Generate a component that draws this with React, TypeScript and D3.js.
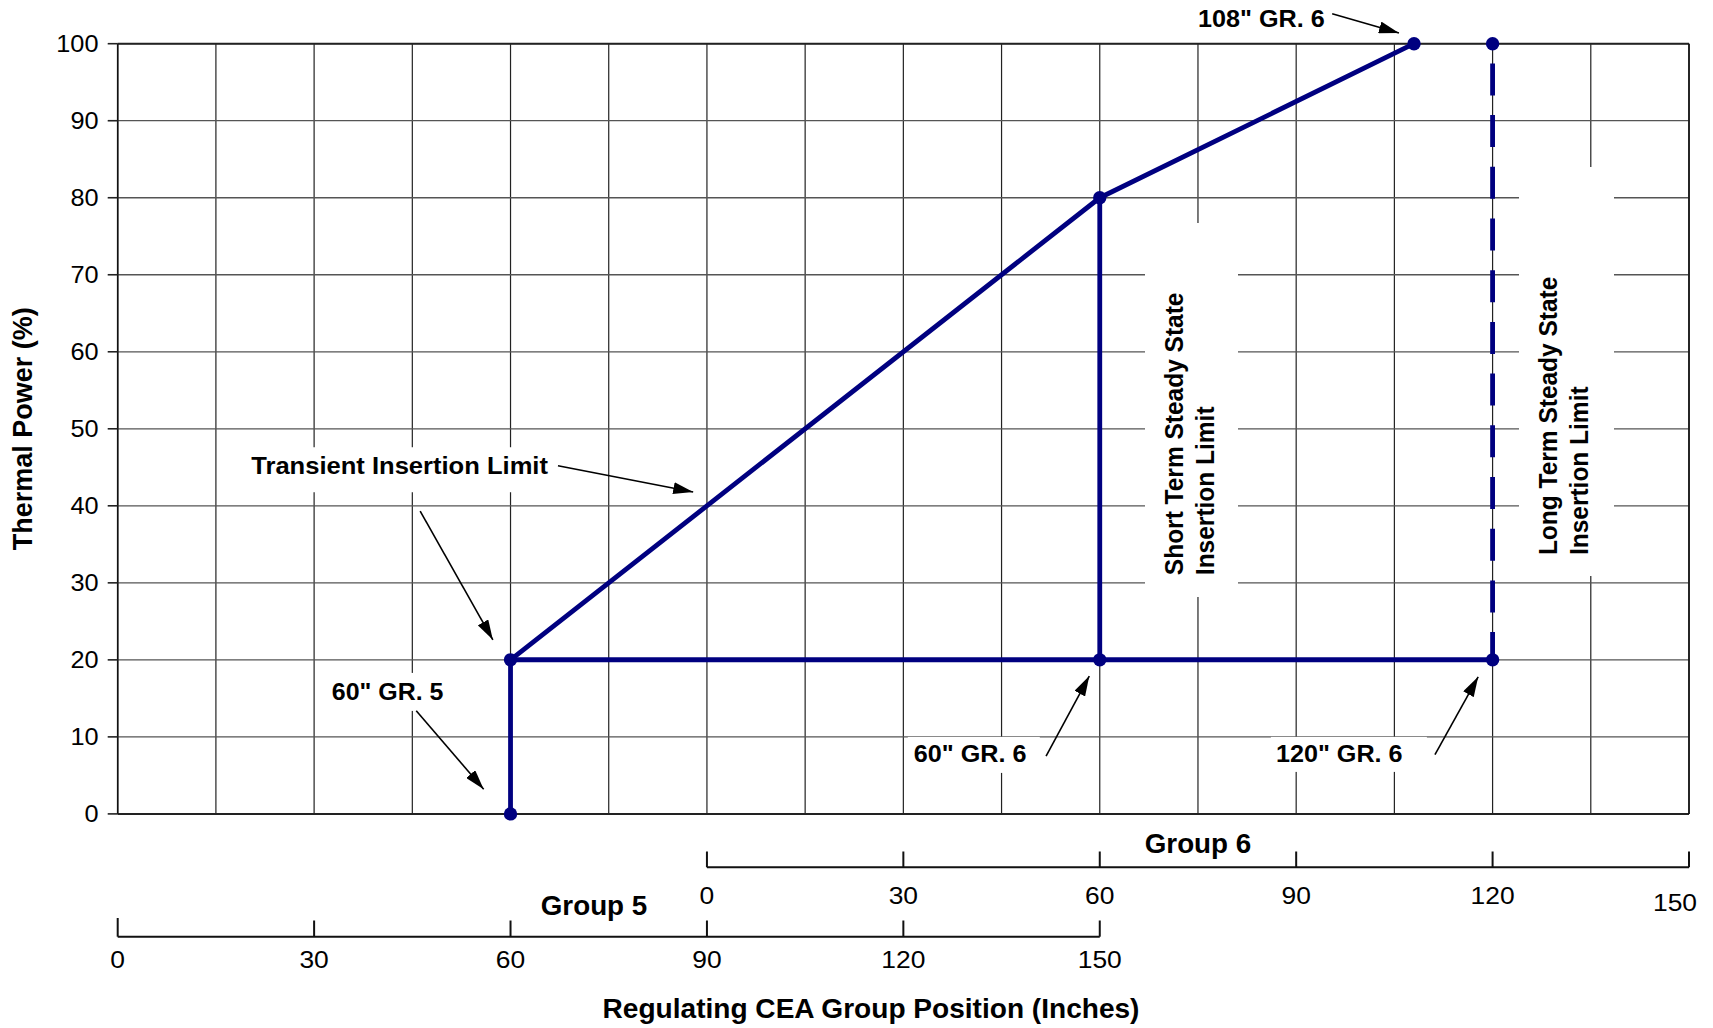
import React from "react";
import * as d3 from "d3";

// ---- data (combined position axis: Group 5 inches 0..150, Group 6 = Group5 - 90) ----
const yTicks = [0, 10, 20, 30, 40, 50, 60, 70, 80, 90, 100];
const groupTicks = [0, 30, 60, 90, 120, 150];
const group6Offset = 90; // Group 6 position 0 == Group 5 position 90

const transientPos = [60, 60, 150, 198];
const transientPower = [0, 20, 80, 100];

const floorPos = [60, 210];
const floorPower = [20, 20];

const shortTermPos = [150, 150];
const shortTermPower = [20, 80];

const longTermPos = [210, 210];
const longTermPower = [100, 20];

const dotPos = [60, 60, 150, 198, 150, 210, 210];
const dotPower = [0, 20, 80, 100, 20, 20, 100];

const W = 1713;
const H = 1028;
const X0 = 117.7, X1 = 1689, Y0 = 813.9, Y1 = 43.7;
const NAVY = "#000080";
const FONT = "'Liberation Sans', Arial, Helvetica, sans-serif";

const x = d3.scaleLinear().domain([0, 240]).range([X0, X1]);
const y = d3.scaleLinear().domain([0, 100]).range([Y0, Y1]);
const x5 = d3.scaleLinear().domain([0, 150]).range([x(0), x(150)]);
const x6 = d3.scaleLinear().domain([0, 150]).range([x(group6Offset), x(group6Offset + 150)]);

const line = d3.line<[number, number]>().x((d) => x(d[0])).y((d) => y(d[1]));
const zip = (a: number[], b: number[]) => a.map((v, i) => [v, b[i]] as [number, number]);

// annotations: label anchor and arrow in data units
const labels = [
  { text: "Transient Insertion Limit", u: 20.4, v: 44.1, box: [-6, -27, 306, 18], sx: 1.065 },
  { text: '60" GR. 5', u: 32.7, v: 14.8, box: [-6, -27, 121, 11], sx: 1.04 },
  { text: '60" GR. 6', u: 121.6, v: 6.75, box: [-6, -25, 126, 11], sx: 1.05 },
  { text: '120" GR. 6', u: 176.9, v: 6.75, box: [-5, -25, 151, 10], sx: 1.05 },
  { text: '108" GR. 6', u: 165.0, v: 102.2, box: null, sx: 1.05 },
];
const arrows = [
  [67.25, 45.2, 87.9, 41.8],
  [46.2, 39.3, 57.3, 22.6],
  [45.6, 13.4, 55.9, 3.2],
  [141.8, 7.5, 148.4, 17.9],
  [201.2, 7.7, 207.8, 17.8],
  [185.5, 103.9, 195.7, 101.4],
];
const vLabels = [
  { lines: ["Short Term Steady State", "Insertion Limit"], u: 162.7, v: 31.0, box: [1145, 223, 1238, 597] },
  { lines: ["Long Term Steady State", "Insertion Limit"], u: 219.8, v: 33.6, box: [1519, 167, 1614, 576] },
];

function T(props: any) {
  const { x: tx, y: ty, sx = 1, anchor = "start", size = 24, bold = false, children } = props;
  return (
    <text
      transform={`translate(${tx},${ty}) scale(${sx},1)`}
      textAnchor={anchor}
      fontSize={size}
      fontWeight={bold ? "bold" : "normal"}
      fontFamily={FONT}
      fill="#000"
    >
      {children}
    </text>
  );
}

export default function App() {
  return (
    <svg
      width={W}
      height={H}
      viewBox={`0 0 ${W} ${H}`}
      style={{ position: "absolute", left: 0, top: 0, display: "block", background: "#fff" }}
    >
      <defs>
        <marker id="ah" markerUnits="userSpaceOnUse" markerWidth={20} markerHeight={12} refX={20} refY={6} orient="auto">
          <path d="M0,0 L20,6 L0,12 z" fill="#000" />
        </marker>
      </defs>
      <rect x={0} y={0} width={W} height={H} fill="#fff" />

      {/* grid */}
      {d3.range(0, 241, 15).map((u) => (
        <line key={"v" + u} x1={x(u)} x2={x(u)} y1={Y1} y2={Y0} stroke="#222" strokeWidth={1.2} />
      ))}
      {yTicks.map((t) => (
        <line key={"h" + t} x1={X0} x2={X1} y1={y(t)} y2={y(t)} stroke="#555" strokeWidth={1.3} />
      ))}
      <line x1={X0} x2={X1} y1={Y1} y2={Y1} stroke="#222" strokeWidth={2} />
      <line x1={X0} x2={X1} y1={Y0} y2={Y0} stroke="#222" strokeWidth={2} />
      <line x1={X0} x2={X0} y1={Y1} y2={Y0} stroke="#111" strokeWidth={1.6} />
      <line x1={X1} x2={X1} y1={Y1} y2={Y0} stroke="#111" strokeWidth={1.6} />

      {/* y ticks */}
      {yTicks.map((t) => (
        <g key={"yt" + t}>
          <line x1={X0 - 10} x2={X0} y1={y(t)} y2={y(t)} stroke="#222" strokeWidth={1.6} />
          <T x={98.5} y={y(t) + 8.2} anchor="end" size={23} sx={1.1}>{t}</T>
        </g>
      ))}

      {/* white label boxes */}
      {labels.filter((l) => l.box).map((l, i) => {
        const ax = x(l.u), ay = y(l.v);
        const b = l.box as number[];
        return <rect key={"lb" + i} x={ax + b[0]} y={ay + b[1]} width={b[2] - b[0]} height={b[3] - b[1]} fill="#fff" />;
      })}
      {vLabels.map((l, i) => (
        <rect key={"vb" + i} x={l.box[0]} y={l.box[1]} width={l.box[2] - l.box[0]} height={l.box[3] - l.box[1]} fill="#fff" />
      ))}

      {/* series */}
      <path d={line(zip(floorPos, floorPower)) || ""} fill="none" stroke={NAVY} strokeWidth={5} />
      <path d={line(zip(shortTermPos, shortTermPower)) || ""} fill="none" stroke={NAVY} strokeWidth={4.8} />
      <path d={line(zip(transientPos, transientPower)) || ""} fill="none" stroke={NAVY} strokeWidth={4.8} strokeLinejoin="round" />
      <path
        d={line(zip(longTermPos, longTermPower)) || ""}
        fill="none"
        stroke={NAVY}
        strokeWidth={4.8}
        strokeDasharray="32 19.7"
        strokeDashoffset={32}
      />
      {dotPos.map((p, i) => (
        <circle key={"d" + i} cx={x(p)} cy={y(dotPower[i])} r={6.7} fill={NAVY} />
      ))}

      {/* annotations */}
      {labels.map((l, i) => (
        <T key={"l" + i} x={x(l.u)} y={y(l.v)} bold size={24} sx={l.sx}>{l.text}</T>
      ))}
      {arrows.map((a, i) => (
        <line key={"a" + i} x1={x(a[0])} y1={y(a[1])} x2={x(a[2])} y2={y(a[3])} stroke="#000" strokeWidth={1.6} markerEnd="url(#ah)" />
      ))}
      {vLabels.map((l, i) =>
        l.lines.map((s, j) => (
          <text
            key={"vl" + i + j}
            transform={`translate(${x(l.u) + j * 31.5},${y(l.v)}) rotate(-90) scale(1,1.06)`}
            fontSize={24.5}
            fontWeight="bold"
            fontFamily={FONT}
            textAnchor="start"
          >
            {s}
          </text>
        ))
      )}

      {/* Group 6 axis */}
      <line x1={x6(0)} x2={x6(150)} y1={867.3} y2={867.3} stroke="#111" strokeWidth={2} />
      {groupTicks.map((t, i) => (
        <g key={"g6" + t}>
          <line x1={x6(t)} x2={x6(t)} y1={851.5} y2={867.3} stroke="#111" strokeWidth={2} />
          <T
            x={x6(t) + (i === groupTicks.length - 1 ? -14 : 0)}
            y={i === groupTicks.length - 1 ? 911 : 904}
            anchor="middle"
            size={24}
            sx={1.1}
          >
            {t}
          </T>
        </g>
      ))}
      <T x={(x6(0) + x6(150)) / 2} y={852.7} anchor="middle" bold size={27} sx={1.03}>Group 6</T>

      {/* Group 5 axis */}
      <line x1={x5(0)} x2={x5(150)} y1={936.7} y2={936.7} stroke="#111" strokeWidth={2} />
      {groupTicks.map((t) => (
        <g key={"g5" + t}>
          <line x1={x5(t)} x2={x5(t)} y1={t === 0 ? 918 : 920.5} y2={936.7} stroke="#111" strokeWidth={2} />
          <T x={x5(t)} y={968} anchor="middle" size={24} sx={1.1}>{t}</T>
        </g>
      ))}
      <T x={594} y={915} anchor="middle" bold size={27} sx={1.03}>Group 5</T>

      {/* axis titles */}
      <T x={871} y={1018} anchor="middle" bold size={27} sx={1.04}>Regulating CEA Group Position (Inches)</T>
      <text
        transform={`translate(32,${(Y0 + Y1) / 2}) rotate(-90)`}
        textAnchor="middle"
        fontSize={27}
        fontWeight="bold"
        fontFamily={FONT}
      >
        Thermal Power (%)
      </text>
    </svg>
  );
}
